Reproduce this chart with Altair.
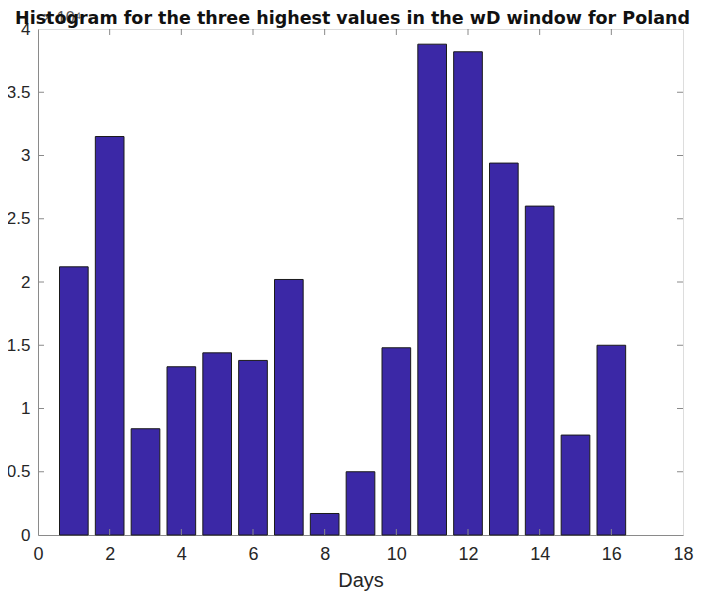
import altair as alt
import pandas as pd

days = list(range(1, 17))
values = [21200, 31500, 8400, 13300, 14400, 13800, 20200, 1700,
          5000, 14800, 38800, 38200, 29400, 26000, 7900, 15000]
x_ticks = [0, 2, 4, 6, 8, 10, 12, 14, 16, 18]
y_ticks = [0, 5000, 10000, 15000, 20000, 25000, 30000, 35000, 40000]
bar_width = 0.8
title_text = "Histogram for the three highest values in the wD window for Poland"

W, H = 645, 506
FONT = "Liberation Sans"
GRAY = "#262626"
LINE = "#8a8a8a"

df = pd.DataFrame({"day": days, "value": values})
xt = pd.DataFrame({"t": x_ticks[1:-1]})
yt = pd.DataFrame({"t": y_ticks[1:-1]})

xscale = alt.Scale(domain=[0, 18], nice=False, zero=False)
yscale = alt.Scale(domain=[0, 40000], nice=False)

xaxis = alt.Axis(values=x_ticks, ticks=False, grid=False, domainColor=LINE,
                 labelFont=FONT, labelFontSize=18, labelColor=GRAY, labelPadding=10,
                 titleFont=FONT, titleFontSize=20, titleFontWeight="normal",
                 titleColor=GRAY, titlePadding=7, labelFlush=False)
yaxis = alt.Axis(values=y_ticks, ticks=False, grid=False, domainColor=LINE,
                 labelFont=FONT, labelFontSize=17, labelColor=GRAY, labelPadding=8,
                 labelExpr="'' + datum.value/10000", labelFlush=False)

bars = alt.Chart(df).transform_calculate(
    x0=f"datum.day - {bar_width/2}", x1=f"datum.day + {bar_width/2}"
).mark_rect(fill="#3B28A6", stroke="#1a1a1a", strokeWidth=1).encode(
    x=alt.X("x0:Q", scale=xscale, title="Days", axis=xaxis),
    x2="x1:Q",
    y=alt.Y("value:Q", scale=yscale, title=None, axis=yaxis),
    y2=alt.datum(0),
)

tick_len = 6
xb = alt.Chart(xt).mark_rule(color=LINE, strokeWidth=1).encode(
    x=alt.X("t:Q", scale=xscale, title="Days", axis=xaxis), y=alt.value(H), y2=alt.value(H - tick_len))
xtp = alt.Chart(xt).mark_rule(color=LINE, strokeWidth=1).encode(
    x=alt.X("t:Q", scale=xscale, title="Days", axis=xaxis), y=alt.value(0), y2=alt.value(tick_len))
yl = alt.Chart(yt).mark_rule(color=LINE, strokeWidth=1).encode(
    y=alt.Y("t:Q", scale=yscale, title=None, axis=yaxis), x=alt.value(0), x2=alt.value(tick_len))
yr = alt.Chart(yt).mark_rule(color=LINE, strokeWidth=1).encode(
    y=alt.Y("t:Q", scale=yscale, title=None, axis=yaxis), x=alt.value(W), x2=alt.value(W - tick_len))

expo = alt.Chart(pd.DataFrame({"s": ["× 10⁴"]})).mark_text(
    font=FONT, fontSize=16, color="#555555", align="left", baseline="alphabetic"
).encode(text="s:N", x=alt.value(5), y=alt.value(-6))

ttl = alt.Chart(pd.DataFrame({"s": [title_text]})).mark_text(
    font="DejaVu Sans", fontSize=17.5, fontWeight="bold", color="#111111",
    align="center", baseline="alphabetic"
).encode(text="s:N", x=alt.value(W / 2 - 8), y=alt.value(-5))

chart = alt.layer(bars, xb, xtp, yl, yr, expo, ttl).properties(
    width=W, height=H,
    autosize=alt.AutoSizeParams(type="none"),
    padding={"left": 30, "top": 21, "right": 15, "bottom": 56},
).configure_view(stroke=LINE, strokeWidth=1).configure(background="white")

chart.save("out.html", embed_options={"renderer": "svg", "actions": False})
